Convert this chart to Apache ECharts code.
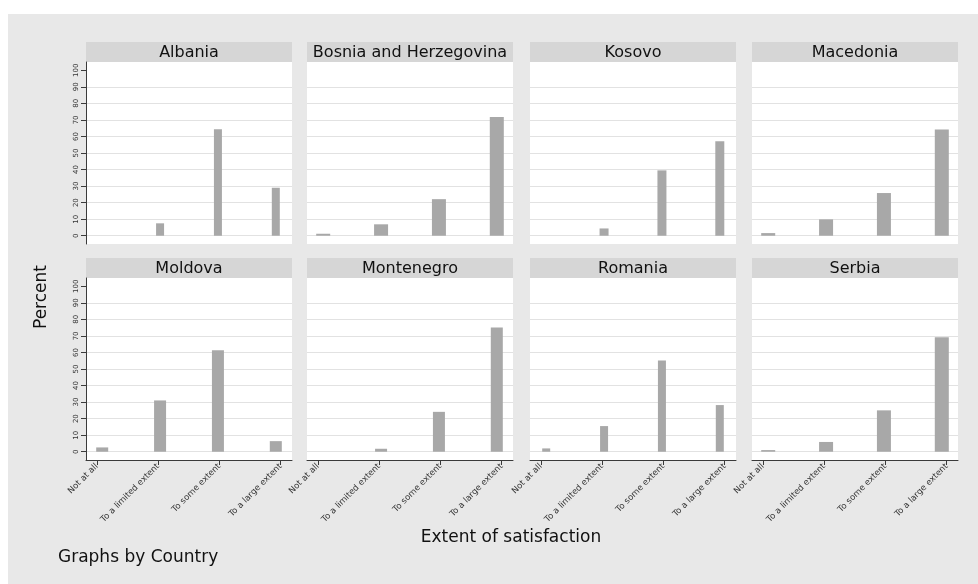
<!DOCTYPE html>
<html>
<head>
<meta charset="utf-8">
<title>Extent of satisfaction by country</title>
<script src="https://cdn.jsdelivr.net/npm/echarts@6/dist/echarts.min.js"></script>
<style>
  html, body { margin: 0; padding: 0; background: #ffffff; }
  #frame { position: absolute; left: 8px; top: 14px; width: 970px; height: 570px; background: #e8e8e8; }
  #chart { position: absolute; left: 0; top: 0; width: 978px; height: 584px; }
</style>
</head>
<body>
<div id="frame"></div>
<div id="chart"></div>
<script>
// Percent of respondents per answer, one array per country
const categories = ['Not at all', 'To a limited extent', 'To some extent', 'To a large extent'];
const countries = ['Albania', 'Bosnia and Herzegovina', 'Kosovo', 'Macedonia',
                   'Moldova', 'Montenegro', 'Romania', 'Serbia'];
const albania    = [0,   7.5, 64.4, 29.0];
const bosnia     = [1.2, 6.9, 22.1, 71.8];
const kosovo     = [0,   4.4, 39.5, 57.1];
const macedonia  = [1.6, 9.9, 25.8, 64.2];
const moldova    = [2.6, 31.0, 61.4, 6.4];
const montenegro = [0,   1.8, 24.1, 75.1];
const romania    = [2.0, 15.5, 55.2, 28.2];
const serbia     = [1.0, 5.9, 25.0, 69.2];
const yTicks = [0, 10, 20, 30, 40, 50, 60, 70, 80, 90, 100];

const seriesValues = [albania, bosnia, kosovo, macedonia, moldova, montenegro, romania, serbia];

// panel layout (2 rows x 4 columns)
const colLeft = [86, 307, 530, 752];
const rowTop = [62, 278];
const panelW = 206, panelH = 182, headH = 20;
const barWidths = [8, 14, 9, 14, 12, 12, 8, 14];

const FONT = 'DejaVu Sans';
const AXIS_COLOR = '#3a3a3a';

const grids = [], xAxes = [], yAxes = [], series = [], graphics = [];

countries.forEach((name, p) => {
  const row = Math.floor(p / 4), col = p % 4;
  const left = colLeft[col], top = rowTop[row];
  const isBottom = row === 1, isLeft = col === 0;

  grids.push({
    left: left, top: top, width: panelW, height: panelH,
    show: true, backgroundColor: '#ffffff', borderWidth: 0
  });

  // axis carrying the bars
  xAxes.push({
    type: 'value', gridIndex: p, min: 0.72, max: 4.28, show: false
  });
  // axis carrying the category ticks and labels
  xAxes.push({
    type: 'value', gridIndex: p, min: 0.824, max: 4.184, position: 'bottom',
    show: isBottom,
    axisLine: { show: true, onZero: false, lineStyle: { color: AXIS_COLOR, width: 1 } },
    axisTick: { show: true, length: 5, customValues: [1, 2, 3, 4],
                lineStyle: { color: AXIS_COLOR, width: 1 } },
    axisLabel: {
      show: true, customValues: [1, 2, 3, 4], rotate: 45, margin: 5,
      fontFamily: FONT, fontSize: 8.5, color: '#333333',
      formatter: v => categories[Math.round(v) - 1]
    },
    splitLine: { show: false }
  });

  yAxes.push({
    type: 'value', gridIndex: p, min: -5, max: 105,
    axisLine: { show: isLeft, onZero: false, lineStyle: { color: AXIS_COLOR, width: 1 } },
    axisTick: { show: isLeft, length: 5, customValues: yTicks,
                lineStyle: { color: AXIS_COLOR, width: 1 } },
    axisLabel: {
      show: isLeft, customValues: yTicks, rotate: 90, margin: 6,
      fontFamily: FONT, fontSize: 7, color: '#333333'
    },
    splitLine: {
      show: true,
      lineStyle: {
        color: ['#e2e2e2', '#e2e2e2', '#e2e2e2', '#e2e2e2', '#e2e2e2',
                '#e2e2e2', '#e2e2e2', '#e2e2e2', '#e2e2e2', '#e2e2e2', 'rgba(0,0,0,0)'],
        width: 1
      }
    }
  });

  series.push({
    type: 'bar',
    name: name,
    xAxisIndex: p * 2,
    yAxisIndex: p,
    barWidth: barWidths[p],
    itemStyle: { color: '#a8a8a8', borderWidth: 0 },
    data: seriesValues[p].map((v, i) => [i + 1, v]),
    silent: true
  });

  // panel header strip
  graphics.push({
    type: 'rect', left: left, top: top - headH,
    shape: { width: panelW, height: headH },
    style: { fill: '#d6d6d6' }
  });
  graphics.push({
    type: 'text', x: left + panelW / 2, y: top - headH / 2 + 0.5,
    style: { text: name, fill: '#111111', font: '16px "' + FONT + '"',
             align: 'center', verticalAlign: 'middle' }
  });
});

// axis titles and note
graphics.push({
  type: 'text', x: 42, y: 297, rotation: Math.PI / 2,
  style: { text: 'Percent', fill: '#111111', font: '17px "' + FONT + '"',
           align: 'center', verticalAlign: 'middle' }
});
graphics.push({
  type: 'text', x: 511, y: 538,
  style: { text: 'Extent of satisfaction', fill: '#111111', font: '17px "' + FONT + '"',
           align: 'center', verticalAlign: 'middle' }
});
graphics.push({
  type: 'text', x: 58, y: 558,
  style: { text: 'Graphs by Country', fill: '#111111', font: '17px "' + FONT + '"',
           align: 'left', verticalAlign: 'middle' }
});

const chart = echarts.init(document.getElementById('chart'), null, { renderer: 'canvas' });
chart.setOption({
  animation: false,
  backgroundColor: 'transparent',
  grid: grids,
  xAxis: xAxes,
  yAxis: yAxes,
  series: series,
  graphic: graphics
});
</script>
</body>
</html>
